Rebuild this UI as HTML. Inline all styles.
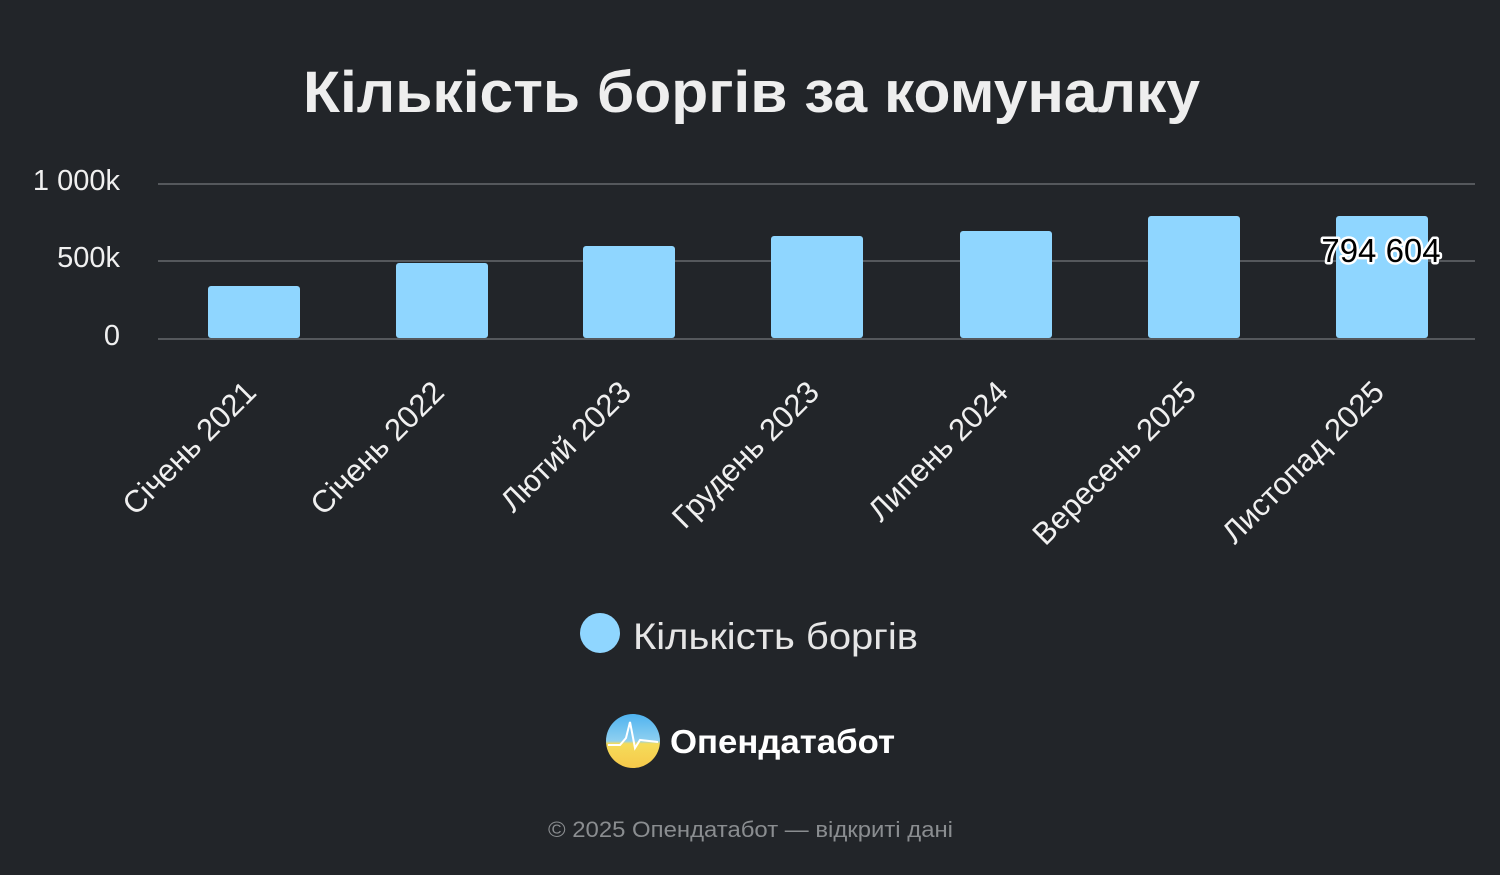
<!DOCTYPE html>
<html><head><meta charset="utf-8"><style>
html,body{margin:0;padding:0;background:#222529;width:1500px;height:875px;overflow:hidden}
svg{display:block}
text{font-family:"Liberation Sans","DejaVu Sans",sans-serif}
</style></head><body>
<svg width="1500" height="875" viewBox="0 0 1500 875">
<defs>
<linearGradient id="lg" x1="0" y1="0" x2="0" y2="1">
<stop offset="0" stop-color="#4fb3f0"/><stop offset="0.5" stop-color="#8fd0f0"/><stop offset="0.55" stop-color="#f5dc5a"/><stop offset="1" stop-color="#f6c94a"/>
</linearGradient>
</defs>
<rect width="1500" height="875" fill="#222529"/>
<text x="303" y="112" font-size="58" font-weight="bold" fill="#eeeeee" textLength="897" lengthAdjust="spacingAndGlyphs">Кількість боргів за комуналку</text>
<g stroke="#55585c" stroke-width="2">
<line x1="158" y1="184" x2="1475" y2="184"/>
<line x1="158" y1="261" x2="1475" y2="261"/>
<line x1="158" y1="339" x2="1475" y2="339"/>
</g>
<g font-size="29" fill="#f0f0f0" text-anchor="end">
<text x="120" y="190">1 000k</text>
<text x="120" y="267">500k</text>
<text x="120" y="345">0</text>
</g>
<g fill="#8fd6ff">
<rect x="208" y="286" width="92" height="52" rx="3"/>
<rect x="396" y="263" width="92" height="75" rx="3"/>
<rect x="583" y="246" width="92" height="92" rx="3"/>
<rect x="771" y="236" width="92" height="102" rx="3"/>
<rect x="960" y="231" width="92" height="107" rx="3"/>
<rect x="1148" y="216" width="92" height="122" rx="3"/>
<rect x="1336" y="216" width="92" height="122" rx="3"/>
</g>
<text x="1381" y="262" text-anchor="middle" font-size="33" fill="#000" stroke="#fff" stroke-width="5" paint-order="stroke" stroke-linejoin="round">794 604</text>
<g font-size="31" fill="#f0f0f0" text-anchor="end">
<text transform="translate(258,394) rotate(-45)">Січень 2021</text>
<text transform="translate(446,394) rotate(-45)">Січень 2022</text>
<text transform="translate(633,394) rotate(-45)">Лютий 2023</text>
<text transform="translate(821,394) rotate(-45)">Грудень 2023</text>
<text transform="translate(1010,394) rotate(-45)">Липень 2024</text>
<text transform="translate(1198,394) rotate(-45)">Вересень 2025</text>
<text transform="translate(1386,394) rotate(-45)">Листопад 2025</text>
</g>
<circle cx="600" cy="633" r="20" fill="#8fd6ff"/>
<text x="633" y="649" font-size="37" fill="#e6e6e6" textLength="285" lengthAdjust="spacingAndGlyphs">Кількість боргів</text>
<circle cx="633" cy="741" r="27" fill="url(#lg)"/>
<polyline points="608,745 620,745 626,738 630,722 635,748 640,740 658,742" fill="none" stroke="#fff" stroke-width="2"/>
<text x="670" y="753" font-size="33" font-weight="bold" fill="#ffffff" textLength="225" lengthAdjust="spacingAndGlyphs">Опендатабот</text>
<text x="548" y="837" font-size="22" fill="#8a8d90" textLength="405" lengthAdjust="spacingAndGlyphs">© 2025 Опендатабот — відкриті дані</text>
</svg>
</body></html>
